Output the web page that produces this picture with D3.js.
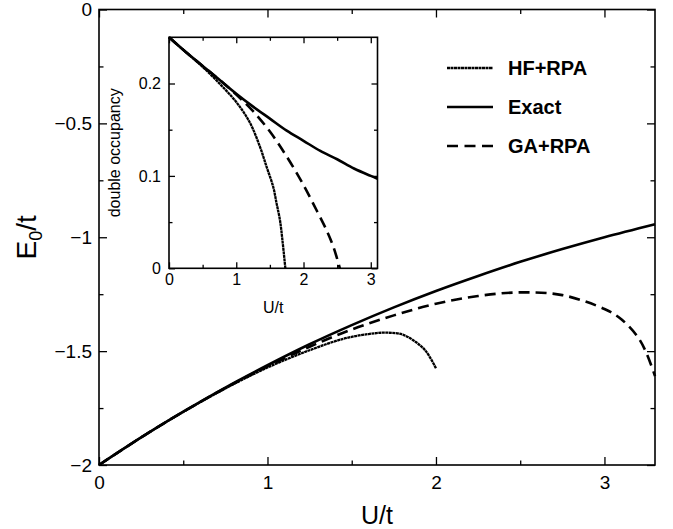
<!DOCTYPE html>
<html lang="en">
<head>
  <meta charset="UTF-8">
  <title>E0/t vs U/t</title>
  <script src="https://d3js.org/d3.v7.min.js"></script>
  <style>
    body { margin: 0; background: #fff; }
    svg { display: block; font-family: "Liberation Sans", Arial, Helvetica, sans-serif; }
    .frame { fill: none; stroke: #000; stroke-width: 1.6; }
    .tick line { stroke: #000; stroke-width: 1.3; }
    .domain { display: none; }
    .curve { fill: none; stroke: #000; stroke-linejoin: round; }
  </style>
</head>
<body>
  <div id="chart"></div>
  <script>
    // main panel: ground state energy
    var uMain = [0, 0.25, 0.5, 0.75, 1.0, 1.25, 1.5, 1.75, 2.0, 2.25, 2.5, 2.75, 3.0, 3.3];
    var exactMain = [-2, -1.879, -1.766, -1.660, -1.562, -1.470, -1.386, -1.308, -1.236, -1.170, -1.108, -1.052, -1.0, -0.943];
    var uHF = [0, 0.25, 0.5, 0.75, 1.0, 1.25, 1.45, 1.6, 1.7, 1.8, 1.88, 1.94, 2.0];
    var hfMain = [-2, -1.879, -1.767, -1.664, -1.572, -1.496, -1.446, -1.425, -1.419, -1.427, -1.46, -1.50, -1.575];
    var uGA = [0, 0.25, 0.5, 0.75, 1.0, 1.25, 1.5, 1.75, 2.0, 2.25, 2.5, 2.75, 3.0, 3.1, 3.2, 3.25, 3.3];
    var gaMain = [-2, -1.879, -1.766, -1.662, -1.567, -1.481, -1.405, -1.343, -1.292, -1.258, -1.242, -1.254, -1.315, -1.36, -1.44, -1.51, -1.61];

    // inset: double occupancy
    var uInExact = [0, 0.25, 0.5, 0.75, 1.0, 1.25, 1.5, 1.75, 2.0, 2.25, 2.5, 2.75, 3.0, 3.1];
    var exactIn = [0.25, 0.234, 0.219, 0.204, 0.189, 0.175, 0.162, 0.149, 0.138, 0.127, 0.118, 0.108, 0.100, 0.097];
    var uInHF = [0, 0.25, 0.5, 0.75, 1.0, 1.2, 1.35, 1.45, 1.55, 1.6, 1.65, 1.69, 1.73];
    var hfIn = [0.25, 0.234, 0.218, 0.200, 0.180, 0.158, 0.132, 0.110, 0.088, 0.070, 0.052, 0.028, 0];
    var uInGA = [0, 0.25, 0.5, 0.75, 1.0, 1.25, 1.5, 1.75, 2.0, 2.2, 2.35, 2.45, 2.54];
    var gaIn = [0.25, 0.234, 0.219, 0.204, 0.188, 0.170, 0.148, 0.121, 0.090, 0.062, 0.040, 0.022, 0];

    var legendNames = ["HF+RPA", "Exact", "GA+RPA"];
    var mainXTicks = [0, 1, 2, 3];
    var mainYTicks = [0, -0.5, -1, -1.5, -2];
    var inXTicks = [0, 1, 2, 3];
    var inYTicks = [0, 0.1, 0.2];

    var width = 673, height = 529;
    var svg = d3.select("#chart").append("svg")
      .attr("width", width)
      .attr("height", height);

    var styles = {
      "HF+RPA": { w: 2.3, dash: "3,0.5" },
      "Exact": { w: 2.6, dash: null },
      "GA+RPA": { w: 2.6, dash: "11,6" }
    };

    function zip(xs, ys) { return xs.map((x, i) => [x, ys[i]]); }

    // draws a framed panel with inward ticks on all four sides
    function panel(g, x, y, o) {
      var x0 = x.range()[0], x1 = x.range()[1];
      var y0 = y.range()[0], y1 = y.range()[1];
      var w = x1 - x0, h = y0 - y1;

      g.append("rect").attr("x", x0).attr("y", y1).attr("width", w).attr("height", h)
        .attr("fill", "#fff");

      function hsides(ticks, size, fmt) {
        g.append("g").attr("transform", `translate(0,${y0})`)
          .call(d3.axisBottom(x).tickValues(ticks).tickSizeInner(-size).tickSizeOuter(0).tickPadding(o.xPad).tickFormat(fmt));
        g.append("g").attr("transform", `translate(0,${y1})`)
          .call(d3.axisTop(x).tickValues(ticks).tickSizeInner(-size).tickSizeOuter(0).tickFormat(""));
      }
      function vsides(ticks, size, fmt) {
        g.append("g").attr("transform", `translate(${x0},0)`)
          .call(d3.axisLeft(y).tickValues(ticks).tickSizeInner(-size).tickSizeOuter(0).tickPadding(o.yPad).tickFormat(fmt));
        g.append("g").attr("transform", `translate(${x1},0)`)
          .call(d3.axisRight(y).tickValues(ticks).tickSizeInner(-size).tickSizeOuter(0).tickFormat(""));
      }
      hsides(o.xMinor, o.minor, "");
      hsides(o.xMajor, o.major, d3.format(""));
      vsides(o.yMinor, o.minor, "");
      vsides(o.yMajor, o.major, d3.format(""));

      g.selectAll(".tick text").attr("fill", "#000").style("font-size", o.font + "px");

      g.append("rect").attr("class", "frame")
        .attr("x", x0).attr("y", y1).attr("width", w).attr("height", h);
    }

    function curves(g, x, y, sets) {
      var line = d3.line().x(d => x(d[0])).y(d => y(d[1])).curve(d3.curveCatmullRom);
      sets.forEach(s => {
        g.append("path").attr("class", "curve")
          .attr("d", line(s.pts))
          .attr("stroke-width", styles[s.name].w)
          .attr("stroke-dasharray", styles[s.name].dash);
      });
    }

    // ---- main panel
    var x = d3.scaleLinear().domain([0, 3.3]).range([99, 655]);
    var y = d3.scaleLinear().domain([-2, 0]).range([465, 9.5]);
    var gMain = svg.append("g");
    panel(gMain, x, y, {
      xMajor: mainXTicks, xMinor: [0.5, 1.5, 2.5],
      yMajor: mainYTicks, yMinor: [-0.25, -0.75, -1.25, -1.75],
      major: 8, minor: 4.5, font: 19, xPad: 11, yPad: 7
    });
    curves(gMain, x, y, [
      { name: "Exact", pts: zip(uMain, exactMain) },
      { name: "GA+RPA", pts: zip(uGA, gaMain) },
      { name: "HF+RPA", pts: zip(uHF, hfMain) }
    ]);

    svg.append("text").attr("x", (99 + 655) / 2).attr("y", 524)
      .attr("text-anchor", "middle").style("font-size", "25px").text("U/t");
    var yl = svg.append("text")
      .attr("transform", `translate(36,${(9.5 + 465) / 2}) rotate(-90)`)
      .attr("text-anchor", "middle").style("font-size", "28px");
    yl.append("tspan").text("E");
    yl.append("tspan").attr("dy", 6).style("font-size", "18px").text("0");
    yl.append("tspan").attr("dy", -6).text("/t");

    // ---- legend
    var lg = svg.append("g");
    legendNames.forEach((name, i) => {
      var ly = 68 + i * 39;
      lg.append("line").attr("x1", 447).attr("x2", 493).attr("y1", ly).attr("y2", ly)
        .attr("stroke", "#000")
        .attr("stroke-width", styles[name].w)
        .attr("stroke-dasharray", name === "GA+RPA" ? "11,6.5" : styles[name].dash);
      lg.append("text").attr("x", 508).attr("y", ly + 7)
        .style("font-size", "20px").style("font-weight", "bold").text(name);
    });

    // ---- inset
    var xi = d3.scaleLinear().domain([0, 3.1]).range([169, 377.5]);
    var yi = d3.scaleLinear().domain([0, 0.25]).range([268.3, 37.3]);
    var gIn = svg.append("g");
    panel(gIn, xi, yi, {
      xMajor: inXTicks, xMinor: [0.5, 1.5, 2.5],
      yMajor: inYTicks, yMinor: [0.05, 0.15],
      major: 6, minor: 3.5, font: 16, xPad: 5, yPad: 8
    });
    curves(gIn, xi, yi, [
      { name: "Exact", pts: zip(uInExact, exactIn) },
      { name: "GA+RPA", pts: zip(uInGA, gaIn) },
      { name: "HF+RPA", pts: zip(uInHF, hfIn) }
    ]);
    svg.append("text").attr("x", (169 + 377.5) / 2).attr("y", 313)
      .attr("text-anchor", "middle").style("font-size", "16px").text("U/t");
    svg.append("text")
      .attr("transform", `translate(120,${(37.3 + 268.3) / 2}) rotate(-90)`)
      .attr("text-anchor", "middle").style("font-size", "16px").text("double occupancy");
  </script>
</body>
</html>
